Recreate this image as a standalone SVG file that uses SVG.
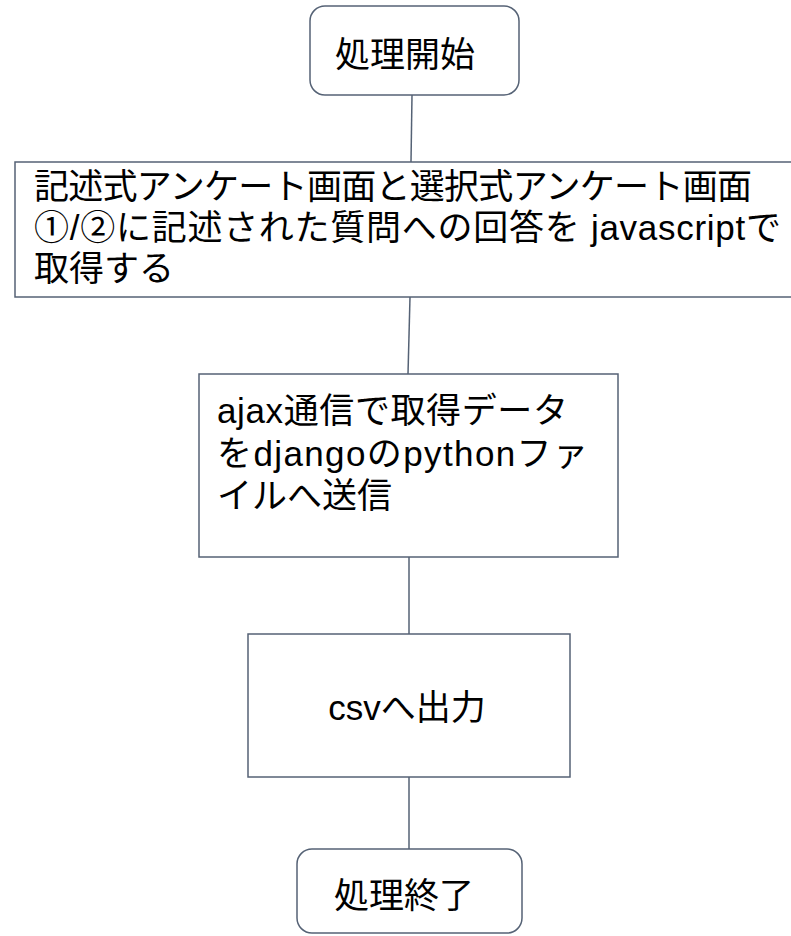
<svg xmlns="http://www.w3.org/2000/svg" width="791" height="936" viewBox="0 0 791 936">
<style>
.box{fill:#fff;stroke:#556275;stroke-width:1.5}
.ln{stroke:#556275;stroke-width:1.5;fill:none}
text{font-family:"Liberation Sans","Noto Sans CJK JP",sans-serif;font-size:35px;fill:#000}
</style>
<rect width="791" height="936" fill="#fff"/>
<g id="connectors">
<line class="ln" x1="412" y1="95" x2="411" y2="162"/>
<line class="ln" x1="410" y1="297" x2="408" y2="374"/>
<line class="ln" x1="409" y1="557" x2="409" y2="634"/>
<line class="ln" x1="409" y1="777" x2="409" y2="849"/>
</g>
<g id="start">
<rect class="box" x="310" y="6" width="209" height="89" rx="15"/>
<text x="405" y="67" text-anchor="middle">処理開始</text>
</g>
<g id="collect">
<rect class="box" x="15" y="162" width="790" height="135"/>
<text x="34" y="199" textLength="718" lengthAdjust="spacing">記述式アンケート画面と選択式アンケート画面</text>
<text x="34" y="240" textLength="747" lengthAdjust="spacing">①/②に記述された質問への回答を javascriptで</text>
<text x="34" y="281">取得する</text>
</g>
<g id="send">
<rect class="box" x="199" y="374" width="419" height="183"/>
<text x="217" y="423" textLength="351" lengthAdjust="spacing">ajax通信で取得データ</text>
<text x="217" y="466" textLength="371" lengthAdjust="spacing">をdjangoのpythonファ</text>
<text x="217" y="508">イルへ送信</text>
</g>
<g id="output">
<rect class="box" x="248" y="634" width="322" height="143"/>
<text x="407" y="720" text-anchor="middle">csvへ出力</text>
</g>
<g id="end">
<rect class="box" x="297" y="849" width="225" height="84" rx="15"/>
<text x="404" y="908" text-anchor="middle">処理終了</text>
</g>
</svg>
